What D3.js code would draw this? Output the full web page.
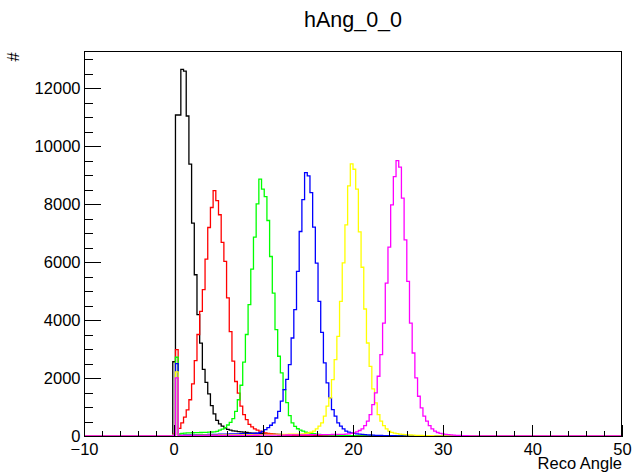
<!DOCTYPE html>
<html>
<head>
<meta charset="utf-8">
<script src="https://d3js.org/d3.v7.min.js"></script>
<style>
  body { margin: 0; background: #fff; }
  svg { display: block; font-family: "Liberation Sans", Arial, sans-serif; }
</style>
</head>
<body>
<svg id="graph"></svg>
<script>
// histogram hAng_0_0 : 200 bins of 0.3 from -10 to 50
const title = "hAng_0_0";
const xTitle = "Reco Angle";
const yTitle = "#";
const xMin = -10, xMax = 50, binWidth = 0.3;
const firstEdge = -0.1;   // left edge of the first listed bin, everything before is 0

const xMajor = [-10, 0, 10, 20, 30, 40, 50];
const yMajor = [0, 2000, 4000, 6000, 8000, 10000, 12000];

const seriesColors = ["#000000", "#ff0000", "#00ff00", "#0000ff", "#ffff00", "#ff00ff"];

const blackCounts = [2560, 11070, 11070, 12645, 12586, 11036, 9373, 7341, 5561, 4184,
  3200, 2300, 1850, 1450, 1050, 760, 540, 420, 338, 280,
  230, 200, 180, 165, 150, 140, 131, 120, 110, 100,
  95, 90, 86, 80, 75, 70, 65, 60, 56, 52,
  48, 44, 41, 38, 35, 32, 29, 27, 25, 23,
  21, 19, 17, 15, 13, 12, 11, 10, 9, 8, 7, 6, 5, 4, 4, 3, 3, 2, 2, 1];

const redCounts = [60, 2978, 260, 450, 650, 900, 1250, 1800, 2600, 3500,
  4300, 5045, 6100, 7190, 7880, 8460, 8120, 7630, 6680, 6020,
  4760, 3600, 2580, 1880, 1480, 1030, 740, 568, 400, 317,
  248, 200, 165, 135, 110, 92, 78, 66, 56, 48,
  41, 35, 30, 26, 22, 19, 16, 14, 12, 10, 8, 7, 6, 5, 4, 3, 3, 2, 2, 1, 1];

const greenCounts = [50, 2715, 70, 90, 100, 105, 110, 112, 115, 118,
  120, 124, 128, 132, 138, 145, 160, 200, 240, 290,
  380, 470, 600, 850, 1250, 1750, 2550, 3500, 4530, 5757,
  6860, 8006, 8857, 8512, 8258, 7431, 6191, 4930, 3667, 2750,
  2180, 1600, 1150, 700, 455, 330, 250, 200, 165, 135,
  110, 95, 80, 68, 58, 50, 43, 37, 32, 28,
  24, 21, 18, 15, 13, 11, 9, 8, 7, 6, 5, 4, 3, 3, 2, 2, 1, 1];

const blueCounts = [40, 2496, 30, 32, 34, 36, 38, 40, 42, 44,
  46, 48, 50, 52, 54, 56, 58, 60, 62, 65,
  68, 70, 72, 74, 76, 78, 80, 82, 84, 86,
  90, 95, 120, 160, 220, 290, 370, 455, 620, 850,
  1200, 1600, 1950, 2460, 3380, 4356, 5676, 7052, 8150, 9084,
  8970, 8396, 7200, 5964, 4643, 3575, 2519, 1830, 1313, 912,
  682, 452, 338, 246, 165, 131, 105, 88, 75, 64,
  55, 47, 40, 34, 29, 25, 21, 18, 15, 13, 11, 9, 8, 7, 6, 5, 4, 3, 3, 2, 2, 1];

const yellowCounts = [30, 2210, 20, 20, 21, 22, 23, 24, 25, 26,
  27, 28, 29, 30, 31, 32, 33, 34, 35, 36,
  37, 38, 39, 40, 41, 42, 43, 44, 45, 46,
  47, 48, 49, 50, 51, 52, 53, 54, 55, 56,
  57, 58, 59, 60, 62, 64, 66, 68, 75, 88,
  105, 130, 165, 246, 338, 452, 682, 1027, 1313, 1945,
  2634, 3437, 4643, 5970, 7283, 8626, 9384, 9200, 8512, 7040,
  5820, 4379, 3208, 2404, 1623, 1141, 740, 510, 361, 246,
  165, 125, 100, 82, 68, 57, 48, 40, 34, 28,
  24, 20, 17, 14, 12, 10, 8, 7, 6, 5, 4, 3, 3, 2, 2, 1, 1];

const magentaCounts = [25, 2003, 12, 12, 13, 13, 14, 14, 15, 15,
  16, 16, 17, 17, 18, 18, 19, 19, 20, 20,
  21, 21, 22, 22, 23, 23, 24, 24, 25, 25,
  26, 26, 27, 27, 28, 28, 29, 29, 30, 31,
  32, 33, 34, 35, 36, 37, 38, 39, 40, 41,
  42, 43, 44, 45, 46, 47, 48, 49, 50, 51,
  52, 53, 55, 58, 63, 75, 90, 110, 140, 189,
  246, 361, 510, 740, 1084, 1486, 2060, 2806, 3896, 5274,
  6515, 7972, 8946, 9497, 9270, 8202, 6767, 5331, 3896, 2863,
  2002, 1371, 969, 682, 510, 361, 246, 165, 120, 90,
  70, 56, 45, 36, 29, 23, 18, 14, 11, 9, 7, 5, 4, 3, 2, 2, 1, 1];

const allCounts = [blackCounts, redCounts, greenCounts, blueCounts, yellowCounts, magentaCounts];

const WIDTH = 633;
const HEIGHT = 473;
const frame = {left: 84, right: 622, top: 51, bottom: 436};

const svg = d3.select("#graph")
    .attr("width", WIDTH)
    .attr("height", HEIGHT);

const nBins = Math.round((xMax - xMin) / binWidth);
const offset = Math.round((firstEdge - xMin) / binWidth);
const yMax = 1.05 * d3.max(blackCounts);

const x = d3.scaleLinear().domain([xMin, xMax]).range([frame.left, frame.right]);
const y = d3.scaleLinear().domain([0, yMax]).range([frame.bottom, frame.top]);

function binPoints(counts) {
    const bins = new Array(nBins).fill(0);
    counts.forEach((c, i) => { bins[offset + i] = c; });
    const pts = bins.map((c, k) => [xMin + k * binWidth, c]);
    pts.push([xMax, bins[nBins - 1]]);
    return pts;
}

const stepLine = d3.line()
    .x(d => x(d[0]))
    .y(d => y(d[1]))
    .curve(d3.curveStepAfter);

svg.append("clipPath").attr("id", "clip")
    .append("rect")
    .attr("x", frame.left).attr("y", frame.top - 1)
    .attr("width", frame.right - frame.left)
    .attr("height", frame.bottom - frame.top + 2);

svg.append("g")
    .attr("clip-path", "url(#clip)")
    .attr("fill", "none")
    .attr("stroke-width", 1.3)
    .selectAll("path")
    .data(allCounts)
    .join("path")
    .attr("stroke", (d, i) => seriesColors[i])
    .attr("d", d => stepLine(binPoints(d)));

// frame
svg.append("rect")
    .attr("x", frame.left + 0.5).attr("y", frame.top + 0.5)
    .attr("width", frame.right - frame.left - 1)
    .attr("height", frame.bottom - frame.top)
    .attr("fill", "none")
    .attr("stroke", "#000")
    .attr("shape-rendering", "crispEdges");

// y axis: ticks point into the frame
const yMinor = d3.range(500, yMax, 500).filter(v => v % 2000 !== 0);
const yAxis = svg.append("g")
    .attr("transform", `translate(${frame.left + 0.5},0)`)
    .call(d3.axisLeft(y).tickValues(yMajor).tickSize(-16).tickPadding(4)
          .tickFormat(d3.format("d")));
svg.append("g")
    .attr("transform", `translate(${frame.left + 0.5},0)`)
    .call(d3.axisLeft(y).tickValues(yMinor).tickSize(-8).tickFormat(""));

// x axis
const xMinor = d3.range(xMin, xMax, 2).filter(v => v % 10 !== 0);
const xAxis = svg.append("g")
    .attr("transform", `translate(0,${frame.bottom + 0.5})`)
    .call(d3.axisBottom(x).tickValues(xMajor).tickSize(-11.5).tickPadding(7)
          .tickFormat(d3.format("d")));
svg.append("g")
    .attr("transform", `translate(0,${frame.bottom + 0.5})`)
    .call(d3.axisBottom(x).tickValues(xMinor).tickSize(-5.8).tickFormat(""));

svg.selectAll(".domain").remove();
svg.selectAll(".tick line").attr("stroke", "#000").attr("shape-rendering", "crispEdges");
svg.selectAll(".tick text")
    .attr("font-family", "Liberation Sans, Arial, sans-serif")
    .attr("font-size", 16.5)
    .attr("fill", "#000");

// titles
svg.append("text")
    .attr("x", (frame.left + frame.right) / 2)
    .attr("y", 27)
    .attr("text-anchor", "middle")
    .attr("font-size", 21.5)
    .text(title);

svg.append("text")
    .attr("x", frame.right)
    .attr("y", 469)
    .attr("text-anchor", "end")
    .attr("font-size", 16.5)
    .text(xTitle);

svg.append("text")
    .attr("transform", "translate(19,57) rotate(-90)")
    .attr("text-anchor", "middle")
    .attr("font-size", 16.5)
    .text(yTitle);
</script>
</body>
</html>
